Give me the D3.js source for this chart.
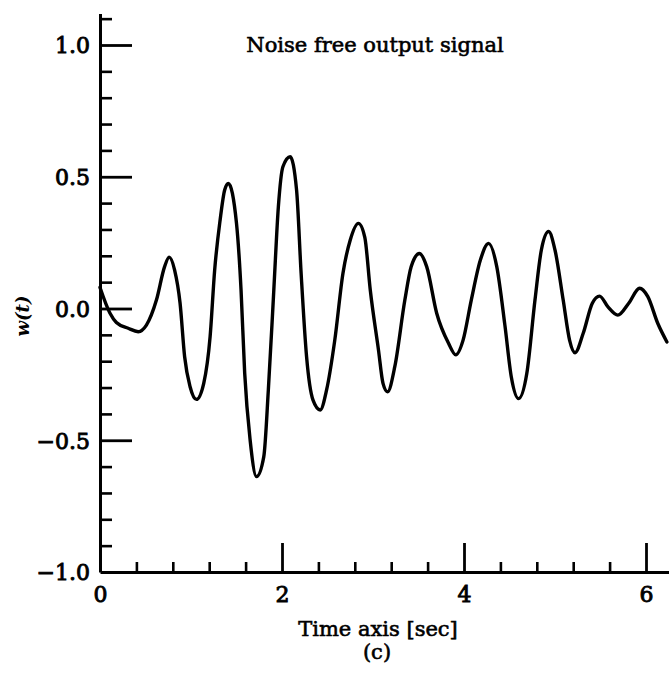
<!DOCTYPE html>
<html>
<head>
<meta charset="utf-8">
<script src="https://cdn.jsdelivr.net/npm/d3@7"></script>
<style>
  html, body { margin: 0; padding: 0; background: #fff; }
  svg { display: block; }
  .lbl { font-family: "DejaVu Serif", serif; fill: #000; }
</style>
</head>
<body>
<svg id="chart" width="669" height="677"></svg>
<script>
// ---- data ----
const time = [0.00, 0.11, 0.18, 0.31, 0.42, 0.51, 0.62, 0.71, 0.76, 0.82, 0.88, 0.93, 0.99, 1.06, 1.14, 1.21, 1.26, 1.32, 1.37, 1.41,
              1.50, 1.55, 1.59, 1.65, 1.72, 1.80, 1.85, 1.91, 1.96, 2.01, 2.09, 2.16, 2.21, 2.27, 2.34, 2.42, 2.49, 2.58, 2.67, 2.75,
              2.84, 2.91, 2.97, 3.06, 3.11, 3.16, 3.24, 3.35, 3.42, 3.51, 3.59, 3.70, 3.83, 3.91, 3.99, 4.08, 4.18, 4.27, 4.36, 4.45,
              4.52, 4.60, 4.69, 4.78, 4.85, 4.93, 5.00, 5.09, 5.16, 5.22, 5.31, 5.41, 5.49, 5.58, 5.69, 5.81, 5.93, 6.02, 6.13, 6.23];
const output = [0.08, -0.018, -0.053, -0.075, -0.088, -0.063, 0.032, 0.159, 0.195, 0.146, 0.02, -0.183, -0.297, -0.345, -0.284, -0.107, 0.146, 0.336, 0.45, 0.475,
                0.323, 0.07, -0.245, -0.5, -0.638, -0.562, -0.309, 0.07, 0.386, 0.538, 0.576, 0.45, 0.134, -0.183, -0.347, -0.385, -0.309, -0.12, 0.134, 0.26,
                0.323, 0.27, 0.07, -0.157, -0.284, -0.316, -0.22, 0.032, 0.159, 0.209, 0.159, -0.018, -0.132, -0.176, -0.12, 0.032, 0.184, 0.247, 0.159, -0.065,
                -0.26, -0.342, -0.247, 0.032, 0.222, 0.292, 0.222, 0.032, -0.12, -0.168, -0.094, 0.02, 0.047, 0.007, -0.025, 0.02, 0.077, 0.045, -0.057, -0.127];
const xMajorTicks = [2, 4, 6];
const xMinorTicks = [0.4, 0.8, 1.2, 1.6, 2.4, 2.8, 3.2, 3.6, 4.4, 4.8, 5.2, 5.6];
const xTickLabels = [0, 2, 4, 6];
const yMajorTicks = [-0.5, 0, 0.5, 1.0];
const yMinorTicks = [-0.9, -0.8, -0.7, -0.6, -0.4, -0.3, -0.2, -0.1, 0.1, 0.2, 0.3, 0.4, 0.6, 0.7, 0.8, 0.9, 1.1];
const yTickLabels = [-1.0, -0.5, 0.0, 0.5, 1.0];
const titleText = "Noise free output signal";
const xTitle = "Time axis [sec]";
const subTitle = "(c)";
const yTitle = "w(t)";

// ---- layout ----
const svg = d3.select("#chart");
const x = d3.scaleLinear().domain([0, 6.3]).range([100, 100 + 6.3 * 91]);
const y = d3.scaleLinear().domain([-1, 1.12]).range([572, 572 - 2.12 * 263.5]);

const fmtY = v => (v < 0 ? "\u2212" : "") + Math.abs(v).toFixed(1);

// y axis: minor ticks
svg.append("g").attr("transform", `translate(${x(0)},0)`)
  .call(d3.axisRight(y).tickValues(yMinorTicks).tickSize(12).tickSizeOuter(0).tickFormat(""))
  .call(g => g.select(".domain").remove())
  .call(g => g.selectAll("line").attr("stroke", "#000").attr("stroke-width", 2.6));
// y axis: major ticks + domain
svg.append("g").attr("transform", `translate(${x(0)},0)`)
  .call(d3.axisRight(y).tickValues(yMajorTicks).tickSize(32).tickSizeOuter(0).tickFormat(""))
  .call(g => g.select(".domain").attr("stroke", "#000").attr("stroke-width", 3))
  .call(g => g.selectAll("line").attr("stroke", "#000").attr("stroke-width", 2.8));
// y tick labels
svg.append("g").attr("transform", `translate(${x(0)},0)`)
  .call(d3.axisLeft(y).tickValues(yTickLabels).tickSize(0).tickPadding(10).tickFormat(fmtY))
  .call(g => g.select(".domain").remove())
  .call(g => g.selectAll("text").attr("class", "lbl").attr("font-size", 22)
      .attr("stroke", "#000").attr("stroke-width", 0.9).attr("dy", "0.36em"));

// x axis: minor ticks
svg.append("g").attr("transform", `translate(0,${y(-1)})`)
  .call(d3.axisTop(x).tickValues(xMinorTicks).tickSize(10).tickSizeOuter(0).tickFormat(""))
  .call(g => g.select(".domain").remove())
  .call(g => g.selectAll("line").attr("stroke", "#000").attr("stroke-width", 2.6));
// x axis: major ticks + domain
svg.append("g").attr("transform", `translate(0,${y(-1)})`)
  .call(d3.axisTop(x).tickValues(xMajorTicks).tickSize(29).tickSizeOuter(0).tickFormat(""))
  .call(g => g.select(".domain").attr("stroke", "#000").attr("stroke-width", 3))
  .call(g => g.selectAll("line").attr("stroke", "#000").attr("stroke-width", 2.8));
// x tick labels
svg.append("g").attr("transform", `translate(0,${y(-1)})`)
  .call(d3.axisBottom(x).tickValues(xTickLabels).tickSize(0).tickPadding(14).tickFormat(d3.format("d")))
  .call(g => g.select(".domain").remove())
  .call(g => g.selectAll("text").attr("class", "lbl").attr("font-size", 22)
      .attr("stroke", "#000").attr("stroke-width", 0.9));

// curve
const pts = time.map((t, i) => [t, output[i]]);
svg.append("path")
  .datum(pts)
  .attr("fill", "none")
  .attr("stroke", "#000")
  .attr("stroke-width", 3.4)
  .attr("stroke-linejoin", "round")
  .attr("stroke-linecap", "round")
  .attr("d", d3.line().x(d => x(d[0])).y(d => y(d[1])).curve(d3.curveMonotoneX));

// texts
svg.append("text").attr("class", "lbl").attr("x", 375).attr("y", 52)
  .attr("text-anchor", "middle").attr("font-size", 21)
  .attr("stroke", "#000").attr("stroke-width", 0.6).text(titleText);
svg.append("text").attr("class", "lbl").attr("x", 378).attr("y", 636)
  .attr("text-anchor", "middle").attr("font-size", 21)
  .attr("stroke", "#000").attr("stroke-width", 0.6).text(xTitle);
svg.append("text").attr("class", "lbl").attr("x", 377).attr("y", 659)
  .attr("text-anchor", "middle").attr("font-size", 21)
  .attr("stroke", "#000").attr("stroke-width", 0.6).text(subTitle);
svg.append("text").attr("class", "lbl")
  .attr("transform", `translate(29,316) rotate(-90)`)
  .attr("text-anchor", "middle").attr("font-size", 18)
  .attr("font-weight", "bold").attr("font-style", "italic").text(yTitle);
</script>
</body>
</html>
